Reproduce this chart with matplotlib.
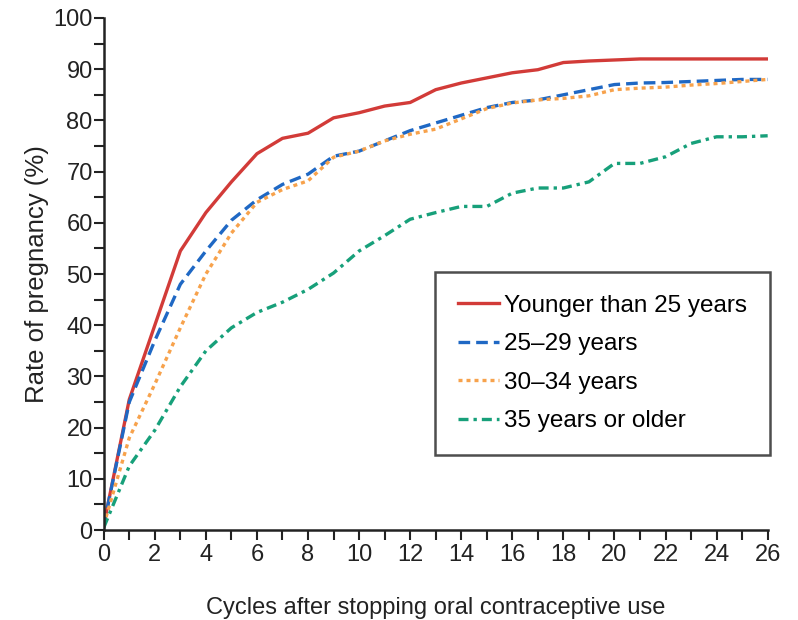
import matplotlib
matplotlib.use("Agg")
import matplotlib.pyplot as plt
import numpy as np
from matplotlib.ticker import MultipleLocator

plt.rcParams['font.family'] = ['Liberation Sans', 'DejaVu Sans']

# Cycles after stopping oral contraceptive use
cycles = list(range(27))

# Cumulative pregnancy rate (%) by age group
under25 = [1, 25.5, 40, 54.5, 62, 68, 73.5, 76.5, 77.5, 80.5, 81.5, 82.8, 83.5,
           86, 87.3, 88.3, 89.3, 89.9, 91.3, 91.6, 91.8, 92, 92, 92, 92, 92, 92]
age25_29 = [1, 25, 37, 48, 54.5, 60.5, 64.5, 67.5, 69.5, 73, 74, 76, 78,
            79.5, 81, 82.5, 83.5, 84, 85, 86, 87, 87.3, 87.4, 87.6, 87.8, 88, 88]
age30_34 = [1, 18, 28.5, 39.5, 50, 58, 64, 66.5, 68.2, 72.8, 74, 76, 77.3,
            78.3, 80.3, 82.3, 83.4, 84, 84.3, 84.8, 86, 86.3, 86.5, 86.9, 87.2, 87.6, 88]
age35plus = [0.5, 12.5, 19.5, 28, 35, 39.5, 42.5, 44.5, 47, 50.2, 54.5, 57.5, 60.7,
             62, 63.2, 63.2, 65.8, 66.8, 66.8, 68, 71.6, 71.6, 72.9, 75.5, 76.8, 76.8, 77]

labels = ["Younger than 25 years", "25\u201329 years", "30\u201334 years", "35 years or older"]

fig = plt.figure(figsize=(7.98, 6.2), dpi=100)
ax = fig.add_axes([0.130, 0.145, 0.832, 0.826])

ax.plot(cycles, under25, color="#d23b38", lw=2.4, ls="-", label=labels[0])
ax.plot(cycles, age25_29, color="#1f68c4", lw=2.4, ls=(0, (3.5, 1.8)), label=labels[1])
ax.plot(cycles, age30_34, color="#f7a24c", lw=2.4, ls=(0, (1.2, 1.2)), label=labels[2])
ax.plot(cycles, age35plus, color="#17a07a", lw=2.4, ls=(0, (3, 1.5, 1, 1.5)), label=labels[3])

ax.set_xlim(0, 26)
ax.set_ylim(0, 100)
ax.xaxis.set_major_locator(MultipleLocator(2))
ax.xaxis.set_minor_locator(MultipleLocator(1))
ax.yaxis.set_major_locator(MultipleLocator(10))
ax.yaxis.set_minor_locator(MultipleLocator(5))
ax.tick_params(which="both", direction="out", length=7, width=1.5, labelsize=17, colors="#222222")
ax.tick_params(axis="x", pad=3)
ax.tick_params(axis="y", pad=1)

for s in ["top", "right"]:
    ax.spines[s].set_visible(False)
for s in ["left", "bottom"]:
    ax.spines[s].set_linewidth(1.8)
    ax.spines[s].set_color("#222222")

ax.set_xlabel("Cycles after stopping oral contraceptive use", fontsize=17, labelpad=22, color="#222222")
ax.set_ylabel("Rate of pregnancy (%)", fontsize=18.5, labelpad=3, color="#222222")

leg = ax.legend(loc="lower right", bbox_to_anchor=(1.004, 0.146), fontsize=17.5, frameon=True,
                fancybox=False, edgecolor="#222222", handlelength=1.7, handletextpad=0.2,
                borderpad=0.95, labelspacing=0.68, borderaxespad=0)
leg.get_frame().set_linewidth(1.8)

fig.savefig("out.png", dpi=100)
